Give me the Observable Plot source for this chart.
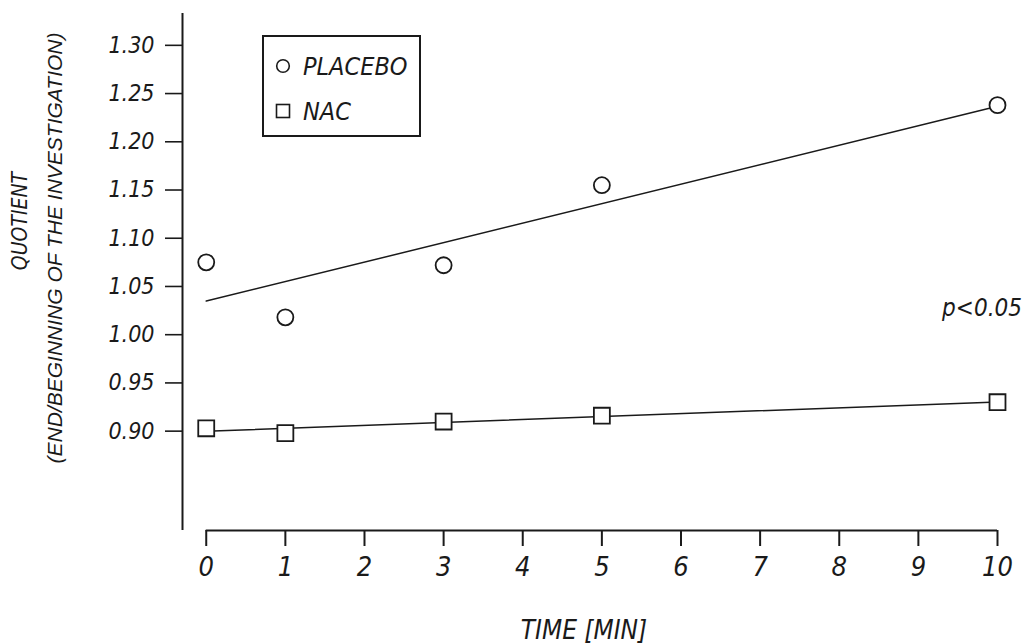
<!DOCTYPE html>
<html>
<head>
<meta charset="utf-8">
<script src="https://cdn.jsdelivr.net/npm/d3@7"></script>
<script src="https://cdn.jsdelivr.net/npm/@observablehq/plot@0.6"></script>
<style>
  html, body { margin: 0; padding: 0; background: #fff; }
  #wrap { position: relative; width: 1026px; height: 644px; overflow: hidden; }
  #legend {
    position: absolute; left: 262px; top: 35px; width: 155px; height: 98px;
    border: 2px solid #1a1a1a; background: #fff; box-sizing: content-box;
    font-family: "Liberation Sans Narrow", "DejaVu Sans Condensed", sans-serif;
    font-style: italic; font-size: 25px; color: #1a1a1a;
  }
  .row { position: absolute; left: 0; display: flex; align-items: center; height: 30px; }
  .row svg { margin-left: 11px; margin-right: 12px; }
</style>
</head>
<body>
<div id="wrap">
  <div id="chart"></div>
  <div id="legend"></div>
</div>
<script>
// ---- data ----
const times   = [0, 1, 3, 5, 10];
const placebo = [1.075, 1.018, 1.072, 1.155, 1.238];
const nac     = [0.903, 0.898, 0.910, 0.916, 0.930];
const seriesNames = ["PLACEBO", "NAC"];
const xTicks = [0, 1, 2, 3, 4, 5, 6, 7, 8, 9, 10];
const yTicks = [0.90, 0.95, 1.00, 1.05, 1.10, 1.15, 1.20, 1.25, 1.30];
const xDomain = [-0.3, 10];
const yDomain = [0.797, 1.333];
const yLabelLines = ["QUOTIENT", "(END/BEGINNING OF THE INVESTIGATION)"];
const xLabel = "TIME [MIN]";
const note = {t: 9.3, v: 1.027, text: "p<0.05"};

const rows = [];
times.forEach((t, i) => rows.push({t, v: placebo[i], s: seriesNames[0]}));
times.forEach((t, i) => rows.push({t, v: nac[i], s: seriesNames[1]}));
const placeboRows = rows.filter(d => d.s === seriesNames[0]);
const nacRows = rows.filter(d => d.s === seriesNames[1]);

const ink = "#1a1a1a";
const narrow = "'Liberation Sans Narrow', 'DejaVu Sans Condensed', sans-serif";

const chart = Plot.plot({
  width: 1026,
  height: 644,
  marginLeft: 182,
  marginRight: 29,
  marginTop: 13,
  marginBottom: 114,
  style: {
    fontFamily: "'DejaVu Sans Condensed', 'DejaVu Sans', sans-serif",
    fontStyle: "italic",
    color: ink,
    background: "#fff"
  },
  x: {domain: xDomain, axis: null},
  y: {domain: yDomain, axis: null},
  marks: [
    Plot.ruleX([xDomain[0]], {stroke: ink, strokeWidth: 2}),
    Plot.ruleY([yDomain[0]], {x1: xTicks[0], x2: xTicks[xTicks.length - 1], stroke: ink, strokeWidth: 2}),
    Plot.axisY({ticks: yTicks, tickFormat: ".2f", tickSize: 17, tickPadding: 11,
      fontSize: 23, stroke: ink, strokeWidth: 1.6, label: null, fill: ink}),
    Plot.axisX({ticks: xTicks, tickFormat: "d", tickSize: 16, tickPadding: 10,
      fontSize: 27, stroke: ink, strokeWidth: 2, label: null, fill: ink}),
    Plot.linearRegressionY(rows, {x: "t", y: "v", z: "s", ci: 0, stroke: ink, strokeWidth: 1.5}),
    Plot.dot(placeboRows, {x: "t", y: "v", symbol: "circle", r: 8, fill: "#fff", stroke: ink, strokeWidth: 1.8}),
    Plot.dot(nacRows, {x: "t", y: "v", symbol: "square", r: 9, fill: "#fff", stroke: ink, strokeWidth: 1.8}),
    Plot.text([note], {x: "t", y: "v", text: "text", textAnchor: "start", fontSize: 24, fill: ink}),
    Plot.text([yLabelLines[0]], {frameAnchor: "left", textAnchor: "middle", lineAnchor: "middle",
      rotate: -90, dx: -162, dy: -51,
      fontSize: 21, fontFamily: narrow, fill: ink}),
    Plot.text([yLabelLines[1]], {frameAnchor: "left", textAnchor: "middle", lineAnchor: "middle",
      rotate: -90, dx: -127, dy: -24,
      fontSize: 21, fontFamily: "'Liberation Sans', 'DejaVu Sans Condensed', sans-serif", fill: ink}),
    Plot.text([xLabel], {frameAnchor: "bottom", lineAnchor: "middle", dx: -6, dy: 100, fontSize: 26, fill: ink})
  ]
});
document.getElementById("chart").appendChild(chart);

// ---- legend (inside plot area, as in the reference) ----
const legend = document.getElementById("legend");
const symbols = ["circle", "square"];
seriesNames.forEach((name, i) => {
  const row = document.createElement("div");
  row.className = "row";
  row.style.top = (i === 0 ? 14 : 59) + "px";
  const shape = symbols[i] === "circle"
    ? '<circle cx="8" cy="8" r="6.3" fill="#fff" stroke="' + ink + '" stroke-width="1.6"/>'
    : '<rect x="1.5" y="1.5" width="13" height="13" fill="#fff" stroke="' + ink + '" stroke-width="1.6"/>';
  row.innerHTML = '<svg width="16" height="16" viewBox="0 0 16 16">' + shape + '</svg><span>' + name + '</span>';
  legend.appendChild(row);
});
</script>
</body>
</html>
